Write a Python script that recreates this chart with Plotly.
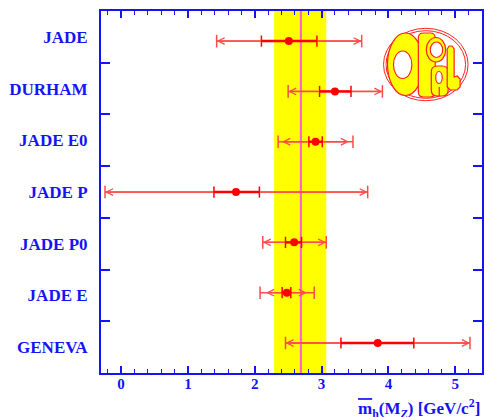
import plotly.graph_objects as go

# ---------------- data ----------------
categories = ["JADE", "DURHAM", "JADE E0", "JADE P", "JADE P0", "JADE E", "GENEVA"]
central    = [2.51, 3.20, 2.91, 1.72, 2.59, 2.48, 3.84]
stat_lo    = [2.10, 2.97, 2.81, 1.39, 2.46, 2.41, 3.29]
stat_hi    = [2.93, 3.44, 3.01, 2.07, 2.70, 2.54, 4.38]
arrow_lo   = [1.43, 2.50, 2.41, -0.24, 2.12, 2.17, 2.46]
arrow_hi   = [3.60, 3.91, 3.41, 3.69, 3.07, 2.78, 5.22]
total_lo   = [1.43, 2.50, 2.35, -0.24, 2.12, 2.08, 2.46]
total_hi   = [3.60, 3.91, 3.47, 3.69, 3.07, 2.89, 5.22]

band_lo, band_hi = 2.29, 3.07     # yellow band
band_center = 2.69                # pink line
x_ticks = [0, 1, 2, 3, 4, 5]

# ---------------- style ----------------
BLUE = "#1414f5"
RED = "#ff0000"
RED_LIGHT = "#ff4a4a"
SERIF = "Liberation Serif"
order_bottom_up = categories[::-1]

fig = go.Figure()

# invisible trace to register categories on the label axis
fig.add_trace(go.Scatter(x=central, y=categories, yaxis="y", mode="markers",
                         marker=dict(opacity=0), hoverinfo="skip", showlegend=False))

for i, c in enumerate(categories):
    fig.add_trace(go.Scatter(x=[total_lo[i], total_hi[i]], y=[c, c], yaxis="y2",
                             mode="lines", line=dict(color=RED_LIGHT, width=1.5),
                             hoverinfo="skip", showlegend=False))
    fig.add_trace(go.Scatter(x=[stat_lo[i], stat_hi[i]], y=[c, c], yaxis="y2",
                             mode="lines", line=dict(color=RED, width=2.5),
                             hoverinfo="skip", showlegend=False))

fig.add_trace(go.Scatter(x=total_lo + total_hi, y=categories + categories, yaxis="y2",
                         mode="markers",
                         marker=dict(symbol="line-ns", size=9, line=dict(color=RED_LIGHT, width=1.5)),
                         hoverinfo="skip", showlegend=False))
fig.add_trace(go.Scatter(x=stat_lo + stat_hi, y=categories + categories, yaxis="y2",
                         mode="markers",
                         marker=dict(symbol="line-ns", size=8, line=dict(color=RED, width=1.5)),
                         hoverinfo="skip", showlegend=False))
fig.add_trace(go.Scatter(x=central, y=categories, yaxis="y2", mode="markers",
                         marker=dict(symbol="circle", size=8, color=RED),
                         showlegend=False))

annotations = []
for i, c in enumerate(categories):
    for tip, tail in ((arrow_lo[i], stat_lo[i]), (arrow_hi[i], stat_hi[i])):
        annotations.append(dict(x=tip, y=c, xref="x", yref="y2",
                                ax=tail, ay=0, axref="x", ayref="pixel",
                                text="", showarrow=True, arrowhead=5,
                                arrowsize=1.0, arrowwidth=1.3, arrowcolor=RED_LIGHT,
                                standoff=0))

annotations.append(dict(
    text="<span style='text-decoration:overline'>m</span><sub>h</sub>(M<sub><i>Z</i></sub>) [GeV/c<sup>2</sup>]",
    xref="paper", yref="paper", x=1.0, y=-0.097, xanchor="right", yanchor="middle",
    showarrow=False, font=dict(family=SERIF, size=17, color=BLUE, weight="bold")))

shapes = [
    dict(type="rect", xref="x", yref="paper", x0=band_lo, x1=band_hi, y0=0, y1=1,
         fillcolor="#ffff00", line=dict(width=0), layer="below"),
    dict(type="line", xref="x", yref="paper", x0=band_center, x1=band_center, y0=0, y1=1,
         line=dict(color="#ff5fc8", width=2), layer="below"),
]

# OPAL logo (decoration), defined in window pixels then mapped to paper coordinates
L, R, T, B = 101, 484, 11, 373
def px(x):
    return (x - L) / (R - L)
def py(y):
    return (B - y) / (B - T)

def ell(x0, x1, y0, y1, fill, lw=1.2, col="#ff2020"):
    return dict(type="circle", xref="paper", yref="paper",
                x0=px(x0), x1=px(x1), y0=py(y1), y1=py(y0),
                fillcolor=fill, line=dict(color=col, width=lw), layer="above")

def rrect(x0, x1, y0, y1, r, fill, lw=1.2, col="#ff2020"):
    pts = (f"M{px(x0 + r)},{py(y0)} L{px(x1 - r)},{py(y0)} Q{px(x1)},{py(y0)} {px(x1)},{py(y0 + r)} "
           f"L{px(x1)},{py(y1 - r)} Q{px(x1)},{py(y1)} {px(x1 - r)},{py(y1)} "
           f"L{px(x0 + r)},{py(y1)} Q{px(x0)},{py(y1)} {px(x0)},{py(y1 - r)} "
           f"L{px(x0)},{py(y0 + r)} Q{px(x0)},{py(y0)} {px(x0 + r)},{py(y0)} Z")
    return dict(type="path", xref="paper", yref="paper", path=pts,
                fillcolor=fill, line=dict(color=col, width=lw), layer="above")

def poly(points, fill, lw=1.2, col="#ff2020"):
    d = "M" + " L".join(f"{px(a)},{py(b)}" for a, b in points) + " Z"
    return dict(type="path", xref="paper", yref="paper", path=d,
                fillcolor=fill, line=dict(color=col, width=lw), layer="above")

Y = "#ffff00"
shapes += [
    ell(385, 470, 28.3, 100.7, "rgba(0,0,0,0)", 1.0),
    ell(387.5, 467.5, 30.7, 98.3, "rgba(0,0,0,0)", 1.0),
    ell(389, 425, 33, 95.5, Y),
    rrect(420, 437, 33, 97, 5, Y),
    ell(428, 447.5, 37.5, 62, Y),
    rrect(433, 450, 66, 96, 6, Y),
    ell(395, 413.5, 51, 78.5, "white"),
    ell(432, 444.5, 42, 57.5, "white"),
    ell(437.5, 444, 71.5, 83.5, "white"),
    poly([(449, 49), (451, 46), (454, 46), (456, 49), (456, 77), (459, 76), (462, 79),
          (462, 87), (459, 90), (452, 90), (449, 87)], Y),
    dict(type="line", xref="paper", yref="paper", x0=px(441), x1=px(441), y0=py(87), y1=py(96),
         line=dict(color="#ff2020", width=1.2), layer="above"),
]

axis_common = dict(showline=True, linecolor=BLUE, linewidth=2, mirror="ticks",
                   ticks="inside", tickcolor=BLUE, showgrid=False, zeroline=False)

fig.update_layout(
    width=486, height=417,
    margin=dict(l=101, r=2, t=11, b=44),
    paper_bgcolor="white", plot_bgcolor="white",
    showlegend=False,
    xaxis=dict(range=[-0.3, 5.4], tickvals=x_ticks, ticklen=7, tickwidth=1.5,
               ticklabelstandoff=-4,
               minor=dict(dtick=0.2, ticklen=4, ticks="inside", tickcolor=BLUE, tickwidth=1),
               tickfont=dict(family=SERIF, size=15, color=BLUE, weight="bold"),
               **axis_common),
    yaxis=dict(type="category", categoryorder="array", categoryarray=order_bottom_up,
               range=[-0.5, 6.5], tickson="boundaries", ticklen=9, tickwidth=1.5,
               ticklabelstandoff=8,
               tickfont=dict(family=SERIF, size=17, color=BLUE, weight="bold"),
               **axis_common),
    yaxis2=dict(type="category", categoryorder="array", categoryarray=order_bottom_up,
                range=[-0.596, 6.598], overlaying="y", visible=False),
    shapes=shapes,
    annotations=annotations,
)

# remove the default page margin so the 486x417 figure fills the window exactly
fig.write_html("out.html", config={"displayModeBar": False},
               post_script="document.body.style.margin='0';document.body.style.overflow='hidden';")
